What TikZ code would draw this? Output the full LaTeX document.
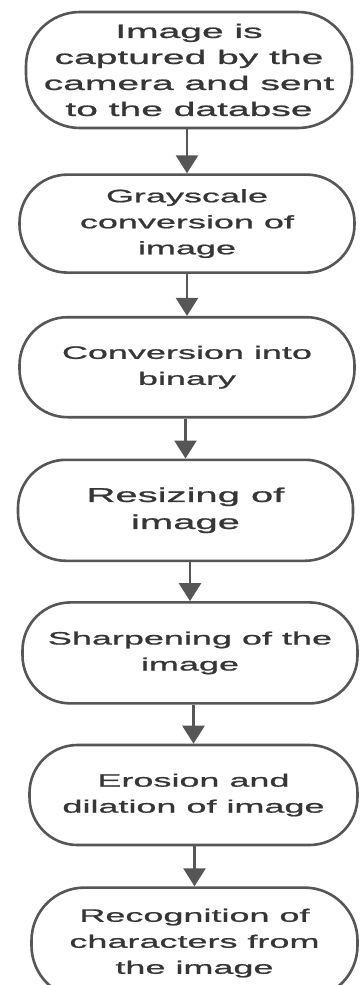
\documentclass[tikz,border=0pt]{standalone}
\usepackage{xcolor}
\usepackage{fontspec}
\usepackage{tikz}
\usetikzlibrary{arrows.meta, positioning}

\newfontfamily\boxfont[FakeStretch=2, FakeBold=1]{Liberation Sans}
\definecolor{edgegray}{HTML}{565656}
\definecolor{textgray}{HTML}{363636}

\begin{document}
\begin{tikzpicture}[
    node distance=40pt,
    box/.style={rectangle, draw=edgegray, line width=2.6pt, rounded corners=48pt, align=center, fill=white, text=textgray, inner sep=2pt, minimum width=335pt, minimum height=100pt, font=\boxfont\fontsize{18}{26}\selectfont},
    arrow/.style={draw=edgegray, line width=2.6pt, -{Triangle[width=22pt,length=18pt]}}
]

\useasboundingbox[fill=white] (0,0) rectangle (359pt,-985pt);

\node[box, minimum width=326pt, minimum height=116pt, rounded corners=54pt, font=\boxfont\fontsize{19.5}{26}\selectfont] (capture) at (189pt,-70pt) {Image is\\captured by the\\camera and sent\\to the databse};
\node[box, below=44pt of capture, xshift=-2pt, minimum height=98pt] (gray) {Grayscale\\conversion of\\image};
\node[box, below=42pt of gray, font=\boxfont\fontsize{18}{26}\selectfont] (binary) {Conversion into\\binary};
\node[box, below=of binary, xshift=-1.5pt, minimum height=101pt, font=\boxfont\fontsize{20}{27}\selectfont] (resize) {Resizing of\\image};
\node[box, below=39pt of resize, xshift=4.5pt, minimum height=101pt] (sharp) {Sharpening of the\\image};
\node[box, below=39pt of sharp, xshift=3.5pt, minimum width=328pt] (erode) {Erosion and\\dilation of image};
\node[box, below=of erode, xshift=1pt, minimum width=326pt, minimum height=111pt, rounded corners=53pt] (recog) {Recognition of\\characters from\\the image};

\draw[arrow] (gray.north |- capture.south) -- (gray.north);
\draw[arrow] (binary.north |- gray.south) -- (binary.north);
\draw[arrow] (resize.north |- binary.south) -- (resize.north);
\draw[arrow] (sharp.north |- resize.south) -- (sharp.north);
\draw[arrow] (erode.north |- sharp.south) -- (erode.north);
\draw[arrow] (recog.north |- erode.south) -- (recog.north);

\end{tikzpicture}
\end{document}
